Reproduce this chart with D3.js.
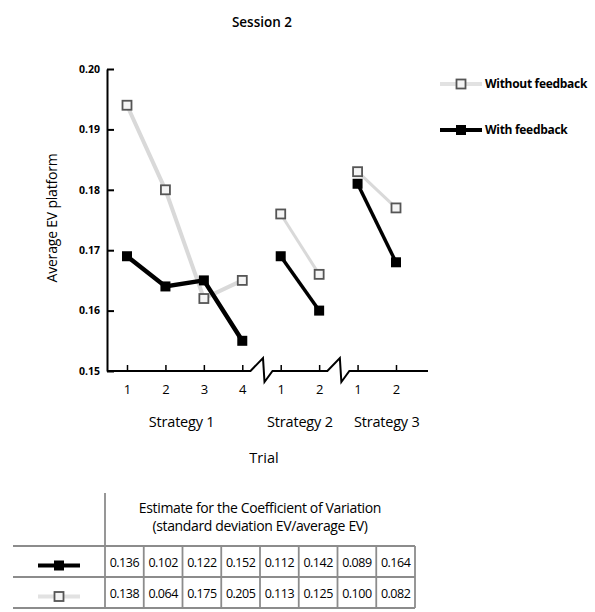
<!DOCTYPE html>
<html>
<head>
<meta charset="utf-8">
<script src="https://cdn.jsdelivr.net/npm/d3@7/dist/d3.min.js"></script>
<style>
  html, body { margin: 0; padding: 0; background: #fff; }
  svg { display: block; font-family: "Open Sans", "Noto Sans", sans-serif; }
</style>
</head>
<body>
<svg id="chart" width="595" height="612"></svg>
<script>
// Session 2: average EV per trial, with and without feedback
const strategies = ["Strategy 1", "Strategy 2", "Strategy 3"];
const trialsPerStrategy = [4, 2, 2];
const trialLabels = ["1", "2", "3", "4", "1", "2", "1", "2"];
const withoutFeedback = [0.194, 0.180, 0.162, 0.165, 0.176, 0.166, 0.183, 0.177];
const withFeedback = [0.169, 0.164, 0.165, 0.155, 0.169, 0.160, 0.181, 0.168];
const yTicks = [0.15, 0.16, 0.17, 0.18, 0.19, 0.20];
const seriesNames = ["Without feedback", "With feedback"];
// Coefficient of variation table rows
const cvWithFeedback = ["0.136", "0.102", "0.122", "0.152", "0.112", "0.142", "0.089", "0.164"];
const cvWithoutFeedback = ["0.138", "0.064", "0.175", "0.205", "0.113", "0.125", "0.100", "0.082"];
const tableTitle = ["Estimate for the Coefficient of Variation", "(standard deviation EV/average EV)"];

const svg = d3.select("#chart");

// flat list of trials with their strategy group
const trials = [];
strategies.forEach((s, g) => {
  for (let t = 0; t < trialsPerStrategy[g]; t++) {
    trials.push({ group: g, key: `g${g}t${t}` });
  }
});
trials.forEach((d, i) => {
  d.label = trialLabels[i];
  d.without = withoutFeedback[i];
  d.with = withFeedback[i];
});

const axisX0 = 107, axisX1 = 428;
const x = d3.scalePoint().domain(trials.map(d => d.key)).range([127, 396]);
const y = d3.scaleLinear().domain([0.15, 0.20]).range([371, 69]);

// title
svg.append("text").attr("x", 262).attr("y", 27).attr("text-anchor", "middle")
  .attr("font-size", 13.5).attr("font-weight", 600).text("Session 2");

// y axis
const yAxis = d3.axisLeft(y).tickValues(yTicks).tickFormat(d3.format(".2f"))
  .tickSizeInner(-7).tickSizeOuter(0).tickPadding(7);
const gy = svg.append("g").attr("transform", `translate(${axisX0},0)`).call(yAxis);
gy.select(".domain").attr("stroke", "#000").attr("stroke-width", 2);
gy.selectAll(".tick line").attr("stroke", "#000").attr("stroke-width", 2);
gy.selectAll(".tick text").attr("font-size", 10.5).attr("font-weight", 700)
  .attr("font-family", "'Open Sans', sans-serif").attr("fill", "#000");

svg.append("text")
  .attr("transform", `translate(57,218) rotate(-90)`)
  .attr("text-anchor", "middle").attr("font-size", 14).attr("letter-spacing", -0.2)
  .text("Average EV platform");

// x axis with break marks between strategy groups
const xAxis = d3.axisBottom(x).tickFormat((k, i) => trials[i].label)
  .tickSizeInner(-6).tickSizeOuter(0).tickPadding(14);
const gx = svg.append("g").attr("transform", `translate(0,${y(0.15)})`).call(xAxis);
gx.select(".domain").remove();
gx.selectAll(".tick line").attr("stroke", "#000").attr("stroke-width", 1.5);
gx.selectAll(".tick text").attr("font-size", 13).attr("font-family", "'Open Sans', sans-serif").attr("fill", "#000");

const y0 = y(0.15);
const axisPts = [[axisX0, y0]];
for (let i = 1; i < trials.length; i++) {
  if (trials[i].group !== trials[i - 1].group) {
    const m = (x(trials[i - 1].key) + x(trials[i].key)) / 2;
    axisPts.push([m - 11, y0], [m + 1.5, y0 - 13], [m + 3, y0 + 11], [m + 11, y0]);
  }
}
axisPts.push([axisX1, y0]);
svg.append("path").attr("d", d3.line()(axisPts))
  .attr("fill", "none").attr("stroke", "#000").attr("stroke-width", 2).attr("stroke-linejoin", "miter");

// group labels
const labelNudge = [-3, 0, 10];
strategies.forEach((s, g) => {
  const ks = trials.filter(d => d.group === g).map(d => x(d.key));
  svg.append("text").attr("x", d3.mean(ks) + labelNudge[g]).attr("y", 427)
    .attr("text-anchor", "middle").attr("font-size", 14.5).attr("letter-spacing", -0.2).text(s);
});
svg.append("text").attr("x", 264).attr("y", 463).attr("text-anchor", "middle")
  .attr("font-size", 14.5).text("Trial");

// series styles
const styles = {
  without: { line: "#d9d9d9", width: 4, fill: "#f4f4f4", stroke: "#555", size: 9, sw: 1.8 },
  with: { line: "#000", width: 4.5, fill: "#000", stroke: "#000", size: 10, sw: 0 }
};

function drawSeries(field) {
  const st = styles[field];
  const line = d3.line().x(d => x(d.key)).y(d => y(d[field]));
  strategies.forEach((s, g) => {
    const pts = trials.filter(d => d.group === g);
    svg.append("path").attr("d", line(pts)).attr("fill", "none")
      .attr("stroke", st.line).attr("stroke-width", g === 0 ? st.width : st.width - 1);
  });
  svg.append("g").selectAll("rect").data(trials).join("rect")
    .attr("x", d => x(d.key) - st.size / 2).attr("y", d => y(d[field]) - st.size / 2)
    .attr("width", st.size).attr("height", st.size)
    .attr("fill", st.fill).attr("stroke", st.stroke).attr("stroke-width", st.sw);
}
drawSeries("without");
drawSeries("with");

// legend symbol: short line with a centred square
function symbol(g, field, x0, x1, cy) {
  const st = styles[field];
  g.append("line").attr("x1", x0).attr("x2", x1).attr("y1", cy).attr("y2", cy)
    .attr("stroke", field === "without" ? "#e2e2e2" : "#000").attr("stroke-width", 4);
  const cx = (x0 + x1) / 2;
  g.append("rect").attr("x", cx - st.size / 2).attr("y", cy - st.size / 2)
    .attr("width", st.size).attr("height", st.size)
    .attr("fill", st.fill).attr("stroke", st.stroke).attr("stroke-width", st.sw);
}

const legend = svg.append("g");
[["without", 84], ["with", 130]].forEach(([field, cy], i) => {
  symbol(legend, field, 440, 482, cy);
  legend.append("text").attr("x", 485).attr("y", cy + 4).attr("font-size", 12)
    .attr("font-weight", 700).attr("letter-spacing", -0.3).text(seriesNames[i]);
});

// coefficient of variation table
const tbl = svg.append("g");
const colX = d3.scaleLinear().domain([0, 8]).range([105, 415]);
const rowTop = 546, rowH = 31;
const grid = "#8c8c8c";
tbl.append("line").attr("x1", colX(0)).attr("x2", colX(0)).attr("y1", 493).attr("y2", rowTop + 2 * rowH)
  .attr("stroke", grid).attr("stroke-width", 1.8);
for (let r = 0; r <= 2; r++) {
  tbl.append("line").attr("x1", 13).attr("x2", colX(8)).attr("y1", rowTop + r * rowH).attr("y2", rowTop + r * rowH)
    .attr("stroke", grid).attr("stroke-width", 1.8);
}
for (let c = 1; c <= 8; c++) {
  tbl.append("line").attr("x1", colX(c)).attr("x2", colX(c)).attr("y1", rowTop).attr("y2", rowTop + 2 * rowH)
    .attr("stroke", grid).attr("stroke-width", 1.8);
}
tableTitle.forEach((t, i) => {
  tbl.append("text").attr("x", (colX(0) + colX(8)) / 2).attr("y", 513 + i * 18)
    .attr("text-anchor", "middle").attr("font-size", 14).attr("letter-spacing", -0.35).text(t);
});
[["with", cvWithFeedback], ["without", cvWithoutFeedback]].forEach(([field, vals], r) => {
  const cy = rowTop + r * rowH + rowH / 2;
  symbol(tbl, field, 38, 80, cy + 4);
  tbl.append("g").selectAll("text").data(vals).join("text")
    .attr("x", (d, c) => (colX(c) + colX(c + 1)) / 2).attr("y", cy + 5)
    .attr("text-anchor", "middle").attr("font-size", 12.5).attr("letter-spacing", -0.5).text(d => d);
});
</script>
</body>
</html>
